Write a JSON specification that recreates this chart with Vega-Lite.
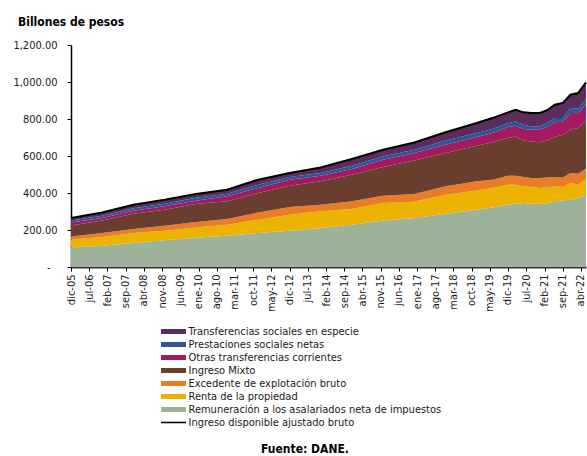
{
  "$schema": "https://vega.github.io/schema/vega-lite/v6.json",
  "width": 515,
  "height": 222,
  "autosize": {"type": "none"},
  "padding": {"left": 71, "top": 45, "right": 1, "bottom": 189},
  "background": "white",
  "config": {
    "font": "DejaVu Sans Condensed",
    "view": {"stroke": null},
    "axis": {"labelFont": "DejaVu Sans Condensed", "labelFontSize": 11, "labelColor": "#1a1a1a", "grid": false, "title": null},
    "legend": {"labelFont": "DejaVu Sans Condensed", "titleFont": "DejaVu Sans Condensed"}
  },
  "title": {
    "text": "Billones de pesos",
    "anchor": "start",
    "frame": "group",
    "dx": -53,
    "offset": 10,
    "fontSize": 12,
    "fontWeight": "bold",
    "color": "#000000",
    "font": "DejaVu Sans Condensed"
  },
  "data": {
    "values": [
      {"fecha": "2005-12-01", "rem": 106, "renta": 42, "exc": 17, "mixto": 60, "otras": 16, "prest": 10, "transf": 14, "total": 265},
      {"fecha": "2006-12-01", "rem": 115, "renta": 47, "exc": 22, "mixto": 68, "otras": 13, "prest": 12, "transf": 18, "total": 295},
      {"fecha": "2007-12-01", "rem": 130, "renta": 54, "exc": 21, "mixto": 83, "otras": 16, "prest": 13, "transf": 20, "total": 337},
      {"fecha": "2008-12-01", "rem": 144, "renta": 52, "exc": 27, "mixto": 87, "otras": 18, "prest": 14, "transf": 22, "total": 364},
      {"fecha": "2009-12-01", "rem": 158, "renta": 55, "exc": 30, "mixto": 97, "otras": 18, "prest": 16, "transf": 21, "total": 395},
      {"fecha": "2010-12-01", "rem": 169, "renta": 60, "exc": 30, "mixto": 96, "otras": 27, "prest": 14, "transf": 22, "total": 418},
      {"fecha": "2011-12-01", "rem": 184, "renta": 72, "exc": 39, "mixto": 105, "otras": 27, "prest": 18, "transf": 27, "total": 472},
      {"fecha": "2012-12-01", "rem": 196, "renta": 87, "exc": 41, "mixto": 115, "otras": 33, "prest": 14, "transf": 22, "total": 508},
      {"fecha": "2013-12-01", "rem": 211, "renta": 90, "exc": 36, "mixto": 126, "otras": 30, "prest": 15, "transf": 30, "total": 538},
      {"fecha": "2014-12-01", "rem": 229, "renta": 84, "exc": 42, "mixto": 144, "otras": 31, "prest": 17, "transf": 37, "total": 584},
      {"fecha": "2015-12-01", "rem": 252, "renta": 94, "exc": 39, "mixto": 156, "otras": 39, "prest": 18, "transf": 36, "total": 634},
      {"fecha": "2016-12-01", "rem": 265, "renta": 88, "exc": 42, "mixto": 181, "otras": 40, "prest": 18, "transf": 39, "total": 673},
      {"fecha": "2017-12-01", "rem": 288, "renta": 103, "exc": 45, "mixto": 180, "otras": 45, "prest": 23, "transf": 44, "total": 728},
      {"fecha": "2018-12-01", "rem": 310, "renta": 104, "exc": 49, "mixto": 193, "otras": 47, "prest": 21, "transf": 54, "total": 778},
      {"fecha": "2019-06-01", "rem": 322, "renta": 105, "exc": 45, "mixto": 202, "otras": 50, "prest": 22, "transf": 59, "total": 805},
      {"fecha": "2019-12-01", "rem": 337, "renta": 108, "exc": 48, "mixto": 204, "otras": 60, "prest": 21, "transf": 58, "total": 836},
      {"fecha": "2020-03-01", "rem": 342, "renta": 103, "exc": 48, "mixto": 213, "otras": 58, "prest": 23, "transf": 63, "total": 850},
      {"fecha": "2020-06-01", "rem": 346, "renta": 90, "exc": 50, "mixto": 198, "otras": 62, "prest": 23, "transf": 67, "total": 836},
      {"fecha": "2020-09-01", "rem": 342, "renta": 90, "exc": 49, "mixto": 198, "otras": 63, "prest": 18, "transf": 72, "total": 832},
      {"fecha": "2020-12-01", "rem": 340, "renta": 87, "exc": 54, "mixto": 193, "otras": 68, "prest": 18, "transf": 72, "total": 832},
      {"fecha": "2021-03-01", "rem": 345, "renta": 85, "exc": 54, "mixto": 200, "otras": 73, "prest": 21, "transf": 69, "total": 847},
      {"fecha": "2021-06-01", "rem": 355, "renta": 81, "exc": 50, "mixto": 217, "otras": 79, "prest": 23, "transf": 72, "total": 877},
      {"fecha": "2021-09-01", "rem": 360, "renta": 72, "exc": 52, "mixto": 231, "otras": 70, "prest": 20, "transf": 81, "total": 886},
      {"fecha": "2021-12-01", "rem": 364, "renta": 90, "exc": 54, "mixto": 234, "otras": 90, "prest": 27, "transf": 72, "total": 931},
      {"fecha": "2022-03-01", "rem": 373, "renta": 72, "exc": 59, "mixto": 247, "otras": 80, "prest": 25, "transf": 84, "total": 940},
      {"fecha": "2022-06-01", "rem": 389, "renta": 87, "exc": 56, "mixto": 260, "otras": 89, "prest": 27, "transf": 90, "total": 998}
    ]
  },
  "layer": [
    {
      "transform": [
        {"fold": ["rem", "renta", "exc", "mixto", "otras", "prest", "transf"], "as": ["clave", "valor"]},
        {"calculate": "indexof(['rem','renta','exc','mixto','otras','prest','transf'], datum.clave)", "as": "orden"},
        {"calculate": "['Remuneración a los asalariados neta de impuestos','Renta de la propiedad','Excedente de explotación bruto','Ingreso Mixto','Otras transferencias corrientes','Prestaciones sociales netas','Transferencias sociales en especie'][datum.orden]", "as": "serie"}
      ],
      "mark": {"type": "area", "interpolate": "linear"},
      "encoding": {
        "x": {
          "field": "fecha",
          "type": "temporal",
          "scale": {"type": "utc", "domain": [{"year": 2005, "month": 12, "date": 1, "utc": true}, {"year": 2022, "month": 6, "date": 1, "utc": true}], "nice": false},
          "axis": {
            "values": [
              {"year": 2005, "month": 12, "date": 1, "utc": true},
              {"year": 2006, "month": 7, "date": 1, "utc": true},
              {"year": 2007, "month": 2, "date": 1, "utc": true},
              {"year": 2007, "month": 9, "date": 1, "utc": true},
              {"year": 2008, "month": 4, "date": 1, "utc": true},
              {"year": 2008, "month": 11, "date": 1, "utc": true},
              {"year": 2009, "month": 6, "date": 1, "utc": true},
              {"year": 2010, "month": 1, "date": 1, "utc": true},
              {"year": 2010, "month": 8, "date": 1, "utc": true},
              {"year": 2011, "month": 3, "date": 1, "utc": true},
              {"year": 2011, "month": 10, "date": 1, "utc": true},
              {"year": 2012, "month": 5, "date": 1, "utc": true},
              {"year": 2012, "month": 12, "date": 1, "utc": true},
              {"year": 2013, "month": 7, "date": 1, "utc": true},
              {"year": 2014, "month": 2, "date": 1, "utc": true},
              {"year": 2014, "month": 9, "date": 1, "utc": true},
              {"year": 2015, "month": 4, "date": 1, "utc": true},
              {"year": 2015, "month": 11, "date": 1, "utc": true},
              {"year": 2016, "month": 6, "date": 1, "utc": true},
              {"year": 2017, "month": 1, "date": 1, "utc": true},
              {"year": 2017, "month": 8, "date": 1, "utc": true},
              {"year": 2018, "month": 3, "date": 1, "utc": true},
              {"year": 2018, "month": 10, "date": 1, "utc": true},
              {"year": 2019, "month": 5, "date": 1, "utc": true},
              {"year": 2019, "month": 12, "date": 1, "utc": true},
              {"year": 2020, "month": 7, "date": 1, "utc": true},
              {"year": 2021, "month": 2, "date": 1, "utc": true},
              {"year": 2021, "month": 9, "date": 1, "utc": true},
              {"year": 2022, "month": 4, "date": 1, "utc": true}
            ],
            "tickCount": 100,
            "labelExpr": "['ene','feb','mar','abr','may','jun','jul','ago','sep','oct','nov','dic'][utcmonth(datum.value)] + '-' + utcFormat(datum.value, '%y')",
            "labelAngle": 270,
            "labelPadding": 3,
            "domainColor": "#333333",
            "domainWidth": 2,
            "tickColor": "#000000",
            "tickSize": 4,
            "labelOverlap": false,
            "labelFlush": false
          }
        },
        "y": {
          "field": "valor",
          "type": "quantitative",
          "stack": "zero",
          "scale": {"domain": [0, 1200], "nice": false},
          "axis": {
            "values": [0, 200, 400, 600, 800, 1000, 1200],
            "tickCount": 100,
            "labelOverlap": false,
            "labelExpr": "datum.value == 0 ? '-' : format(datum.value, ',.2f')",
            "labelPadding": {"condition": {"test": "datum.value == 0", "value": 17}, "value": 10},
            "domainColor": "#000000",
            "domainWidth": 1.5,
            "tickColor": "#000000",
            "tickSize": 4
          }
        },
        "color": {
          "field": "serie",
          "type": "nominal",
          "scale": {
            "domain": ["Transferencias sociales en especie", "Prestaciones sociales netas", "Otras transferencias corrientes", "Ingreso Mixto", "Excedente de explotación bruto", "Renta de la propiedad", "Remuneración a los asalariados neta de impuestos", "Ingreso disponible ajustado bruto"],
            "range": ["#5a2d5c", "#2e559b", "#a31a5f", "#6a3e2e", "#e87d26", "#ebb300", "#9cb39a", "#000000"]
          },
          "legend": {
            "orient": "none",
            "legendX": 97,
            "legendY": 281,
            "direction": "vertical",
            "title": "Fuente: DANE.",
            "titleOrient": "bottom",
            "titleAnchor": "middle",
            "titlePadding": 16,
            "titleFontSize": 12,
            "titleFontWeight": "bold",
            "titleColor": "#000000",
            "symbolSize": 121,
            "rowPadding": 1,
            "labelFontSize": 11,
            "labelColor": "#1a1a1a",
            "labelOffset": 9.5,
            "labelLimit": 400,
            "padding": 0,
            "encode": {
              "symbols": {
                "update": {
                  "shape": {"signal": "datum.value === 'Ingreso disponible ajustado bruto' ? 'M-2.27,-0.14H2.27V0.14H-2.27Z' : 'M-2.27,-0.45H2.27V0.45H-2.27Z'"},
                  "fill": {"signal": "scale('color', datum.value)"},
                  "fillOpacity": {"value": 1},
                  "opacity": {"value": 1},
                  "strokeWidth": {"value": 0}
                }
              }
            }
          }
        },
        "order": {"field": "orden", "type": "quantitative", "sort": "ascending"}
      }
    },
    {
      "mark": {"type": "line", "strokeWidth": 2},
      "encoding": {
        "x": {"field": "fecha", "type": "temporal"},
        "y": {"field": "total", "type": "quantitative"},
        "color": {"datum": "Ingreso disponible ajustado bruto"}
      }
    }
  ]
}
